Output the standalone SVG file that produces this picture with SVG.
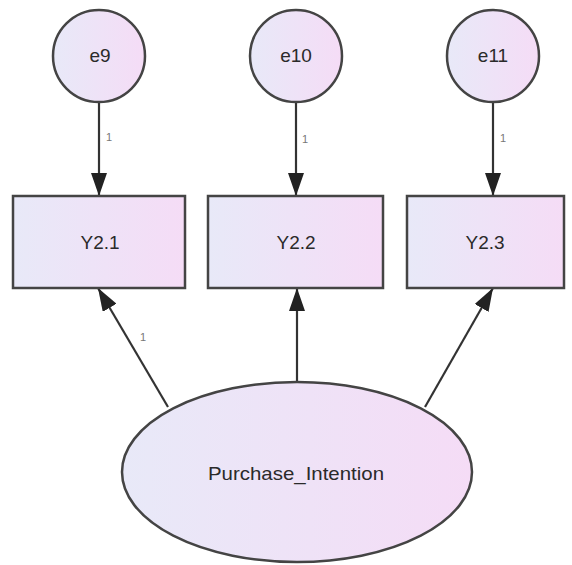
<svg xmlns="http://www.w3.org/2000/svg" width="572" height="565" viewBox="0 0 572 565">
<defs>
<linearGradient id="fillg" x1="0" y1="0" x2="1" y2="0">
<stop offset="0" stop-color="#e8e9f8"/>
<stop offset="1" stop-color="#f5dcf6"/>
</linearGradient>
<marker id="arr" markerUnits="userSpaceOnUse" markerWidth="24" markerHeight="16" refX="23" refY="8" orient="auto">
<path d="M0,0 L23,8 L0,16 Z" fill="#222"/>
</marker>
<style>
.node{fill:url(#fillg);stroke:#444;stroke-width:2.5}
.lbl{font-family:"Liberation Sans",Arial,sans-serif;font-size:19px;fill:#2a2a2a;text-anchor:middle;dominant-baseline:central}
.one{font-family:"Liberation Sans",Arial,sans-serif;font-size:11px;fill:#777;text-anchor:middle;dominant-baseline:central}
.edge{stroke:#333;stroke-width:2.2;fill:none;marker-end:url(#arr)}
</style>
</defs>
<rect width="572" height="565" fill="#ffffff"/>
<g id="connectors">
<line class="edge" x1="99" y1="102" x2="99" y2="196"/>
<line class="edge" x1="296" y1="102" x2="296" y2="196"/>
<line class="edge" x1="493" y1="102" x2="493" y2="196"/>
<line class="edge" x1="168" y1="407" x2="98" y2="288"/>
<line class="edge" x1="297" y1="382" x2="297" y2="288"/>
<line class="edge" x1="425" y1="407" x2="493" y2="288"/>
<text class="one" x="109" y="137">1</text>
<text class="one" x="305" y="139">1</text>
<text class="one" x="503" y="138">1</text>
<text class="one" x="143" y="337">1</text>
</g>
<g id="e9"><circle class="node" cx="99" cy="56" r="46"/><text class="lbl" x="100" y="55">e9</text></g>
<g id="e10"><circle class="node" cx="296" cy="56" r="46"/><text class="lbl" x="296" y="55">e10</text></g>
<g id="e11"><circle class="node" cx="493" cy="56" r="46"/><text class="lbl" x="493" y="55">e11</text></g>
<g id="Y2.1"><rect class="node" x="13" y="196" width="172" height="92"/><text class="lbl" x="100" y="242">Y2.1</text></g>
<g id="Y2.2"><rect class="node" x="208" y="196" width="175" height="92"/><text class="lbl" x="296" y="242">Y2.2</text></g>
<g id="Y2.3"><rect class="node" x="407" y="196" width="157" height="92"/><text class="lbl" x="485" y="242">Y2.3</text></g>
<g id="Purchase_Intention"><ellipse class="node" cx="297" cy="472" rx="175" ry="90"/><text class="lbl" x="296" y="473" textLength="176" lengthAdjust="spacingAndGlyphs">Purchase_Intention</text></g>
</svg>
